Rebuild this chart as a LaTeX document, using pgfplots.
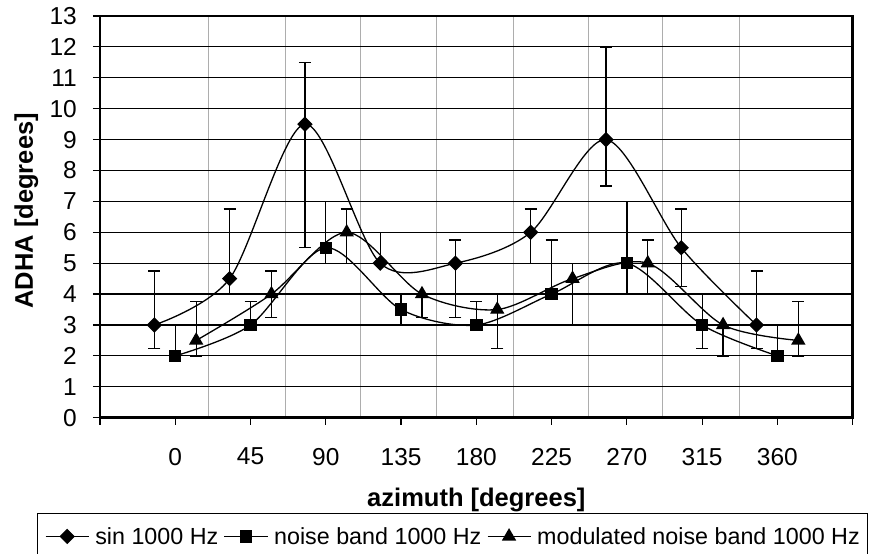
\documentclass[border=0pt]{standalone}
\usepackage{fontspec}
\setmainfont{Liberation Sans}
\usepackage{pgfplots}
\pgfplotsset{compat=1.18}
\begin{document}
\begin{tikzpicture}[x=1pt,y=1pt]
\begin{axis}[
  at={(100pt,136.3pt)}, anchor=south west,
  scale only axis, width=752.7pt, height=401.7pt,
  xmin=-45, xmax=405, ymin=0, ymax=13,
  xtick={-45,0,45,90,135,180,225,270,315,360,405},
  xticklabels={,0,45,90,135,180,225,270,315,360,},
  ytick={0,1,2,3,4,5,6,7,8,9,10,11,12,13},
  minor xtick={20,65.8,110.9,156.1,202,246.9,291,337.1},
  xmajorgrids=false, xminorgrids=true, ymajorgrids=true,
  minor x grid style={color=black!32, line width=1pt},
  major y grid style={black, line width=1.2pt},
  minor tick length=0pt,
  tick pos=left, tick align=outside, major tick length=7pt,
  major tick style={black, line width=1.2pt},
  axis line style={line width=2.6pt},
  /pgf/number format/assume math mode=true,
  every tick label/.append style={font=\fontsize{24.5}{29}\selectfont},
  yticklabel style={anchor=east, inner sep=0pt, xshift=-16pt},
  xticklabel style={anchor=north, inner sep=0pt, yshift=-23pt},
  xlabel={azimuth [degrees]},
  ylabel={ADHA [degrees]},
  label style={font=\fontsize{25.5}{30}\bfseries\selectfont},
  xlabel style={at={(axis description cs:0.5,-0.205)}, anchor=center},
  ylabel style={at={(axis description cs:-0.098,0.515)}, anchor=center},
  legend columns=-1,
  legend style={at={(axis description cs:-0.0837,-0.238)}, anchor=north west,
    draw=black, line width=1pt, font=\fontsize{23.3}{27}\selectfont,
    nodes={inner sep=0pt},
    inner xsep=7.5pt, inner ysep=13.4pt,
    /tikz/every even column/.append style={column sep=5.5pt},
    /tikz/every odd column/.append style={column sep=6pt}},
  legend image code/.code={\draw[mark repeat=2,mark phase=2,#1] plot coordinates {(0pt,0pt) (21.5pt,0pt) (43pt,0pt)};},
  every axis plot/.append style={black, line width=1.3pt},
]
% error bars up
\addplot[only marks, mark=none, forget plot, error bars/.cd, y dir=plus, y explicit,
  error bar style={black, line width=1.3pt},
  error mark options={rotate=90, mark size=6pt, line width=1.3pt, black}]
  coordinates {(-12.5,3) +- (0,1.75) (32.5,4.5) +- (0,2.25) (77.5,9.5) +- (0,2) (122.5,5) +- (0,1)
  (167.5,5) +- (0,0.75) (212.5,6) +- (0,0.75) (257.5,9) +- (0,3) (302.5,5.5) +- (0,1.25) (347.5,3) +- (0,1.75)
  (0,2) +- (0,1) (45,3) +- (0,0.75) (90,5.5) +- (0,1.5) (135,3.5) +- (0,0.5) (180,3) +- (0,0.75)
  (225,4) +- (0,1.75) (270,5) +- (0,2) (315,3) +- (0,1) (360,2) +- (0,1)
  (12.5,2.5) +- (0,1.25) (57.5,4) +- (0,0.75) (102.5,6) +- (0,0.75) (192.5,3.5) +- (0,0.5)
  (237.5,4.5) +- (0,0.5) (282.5,5) +- (0,0.75) (372.5,2.5) +- (0,1.25)};
% error bars down
\addplot[only marks, mark=none, forget plot, error bars/.cd, y dir=minus, y explicit,
  error bar style={black, line width=1.3pt},
  error mark options={rotate=90, mark size=6pt, line width=1.3pt, black}]
  coordinates {(-12.5,3) +- (0,0.75) (32.5,4.5) +- (0,0.5) (77.5,9.5) +- (0,4)
  (167.5,5) +- (0,1.75) (212.5,6) +- (0,1) (257.5,9) +- (0,1.5) (302.5,5.5) +- (0,1.25) (347.5,3) +- (0,0.75)
  (90,5.5) +- (0,0.5) (135,3.5) +- (0,0.5) (270,5) +- (0,1) (315,3) +- (0,0.75)
  (12.5,2.5) +- (0,0.5) (57.5,4) +- (0,0.75) (102.5,6) +- (0,1) (147.5,4) +- (0,0.75) (192.5,3.5) +- (0,1.25)
  (237.5,4.5) +- (0,1.5) (282.5,5) +- (0,1) (327.5,3) +- (0,1) (372.5,2.5) +- (0,0.5)};
\addplot[smooth, mark=square*, mark size=4.8pt, mark options={solid, fill=black, rotate=45}]
  coordinates {(-12.5,3) (32.5,4.5) (77.5,9.5) (122.5,5) (167.5,5) (212.5,6) (257.5,9) (302.5,5.5) (347.5,3)};
\addlegendentry{sin 1000 Hz}
\addplot[smooth, mark=square*, mark size=5.5pt, mark options={solid, fill=black}]
  coordinates {(0,2) (45,3) (90,5.5) (135,3.5) (180,3) (225,4) (270,5) (315,3) (360,2)};
\addlegendentry{noise band 1000 Hz}
\addplot[smooth, mark=triangle*, mark size=7pt, mark options={solid, fill=black}]
  coordinates {(12.5,2.5) (57.5,4) (102.5,6) (147.5,4) (192.5,3.5) (237.5,4.5) (282.5,5) (327.5,3) (372.5,2.5)};
\addlegendentry{modulated noise band 1000 Hz}
\end{axis}
\pgfresetboundingbox
\path[use as bounding box] (0,0) rectangle (870,554);
\end{tikzpicture}
\end{document}
